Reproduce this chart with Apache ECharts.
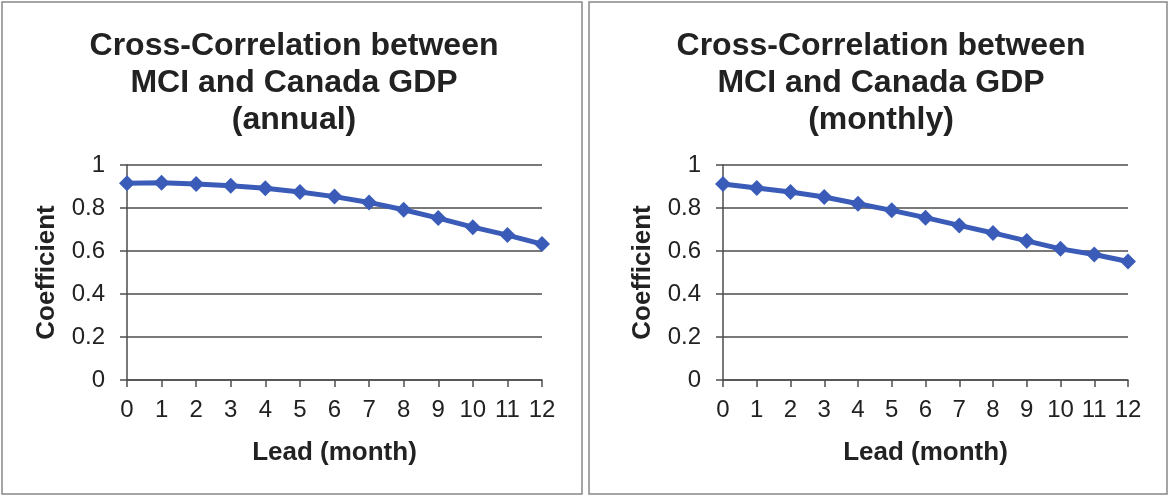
<!DOCTYPE html>
<html>
<head>
<meta charset="utf-8">
<script src="https://cdn.jsdelivr.net/npm/echarts@6/dist/echarts.min.js"></script>
<style>
html,body{margin:0;padding:0;background:#fff;}
#c{width:1171px;height:497px;}
</style>
</head>
<body>
<div id="c"></div>
<script>
const leads = ['0','1','2','3','4','5','6','7','8','9','10','11','12'];
const annualCoef = [0.915, 0.917, 0.912, 0.904, 0.892, 0.874, 0.853, 0.826, 0.792, 0.753, 0.711, 0.674, 0.632];
const monthlyCoef = [0.912, 0.893, 0.874, 0.851, 0.820, 0.789, 0.755, 0.719, 0.684, 0.647, 0.610, 0.584, 0.551];
const yTicks = [0, 0.2, 0.4, 0.6, 0.8, 1];
const titleAnnual = 'Cross-Correlation between\nMCI and Canada GDP\n(annual)';
const titleMonthly = 'Cross-Correlation between\nMCI and Canada GDP\n(monthly)';
const xName = 'Lead (month)';
const yName = 'Coefficient';

const FONT = '"Liberation Sans", Arial, sans-serif';
const axisCol = '#4d4d4d';
const lineCol = '#3A5CB8';

function xAxis(gi) {
  return {
    type: 'category', gridIndex: gi, data: leads, boundaryGap: false,
    name: xName, nameLocation: 'middle', nameGap: 60,
    nameTextStyle: {fontFamily: FONT, fontWeight: 'bold', fontSize: 26, color: '#222'},
    axisLine: {lineStyle: {color: axisCol, width: 1.5}},
    axisTick: {show: true, alignWithLabel: true, length: 7, lineStyle: {color: axisCol, width: 1.5}},
    axisLabel: {fontFamily: FONT, fontSize: 24, color: '#222', margin: 18, interval: 0},
    splitLine: {show: false}
  };
}
function yAxis(gi) {
  return {
    type: 'value', gridIndex: gi, min: 0, max: 1, interval: 0.2,
    name: yName, nameLocation: 'middle', nameGap: 67,
    nameTextStyle: {fontFamily: FONT, fontWeight: 'bold', fontSize: 26, color: '#222'},
    axisLine: {show: true, lineStyle: {color: axisCol, width: 1.5}},
    axisTick: {show: true, length: 7, lineStyle: {color: axisCol, width: 1.5}},
    axisLabel: {fontFamily: FONT, fontSize: 24, color: '#222', margin: 22,
      formatter: v => String(Math.round(v * 10) / 10)},
    splitLine: {show: true, lineStyle: {color: axisCol, width: 1.5}}
  };
}
function series(gi, data) {
  return {
    type: 'line', xAxisIndex: gi, yAxisIndex: gi, data: data,
    symbol: 'diamond', symbolSize: 16, smooth: false,
    lineStyle: {color: lineCol, width: 5},
    itemStyle: {color: lineCol},
    animation: false
  };
}

const chart = echarts.init(document.getElementById('c'), null, {renderer: 'canvas'});
chart.setOption({
  backgroundColor: '#ffffff',
  animation: false,
  title: [
    {text: titleAnnual, left: 289, top: 23, textAlign: 'center',
     textStyle: {fontFamily: FONT, fontWeight: 'bold', fontSize: 32, lineHeight: 37, color: '#222', align: 'center'}},
    {text: titleMonthly, left: 876, top: 23, textAlign: 'center',
     textStyle: {fontFamily: FONT, fontWeight: 'bold', fontSize: 32, lineHeight: 37, color: '#222', align: 'center'}}
  ],
  grid: [
    {left: 127, right: 629, top: 165, bottom: 117, containLabel: false},
    {left: 723, right: 43, top: 165, bottom: 117, containLabel: false}
  ],
  xAxis: [xAxis(0), xAxis(1)],
  yAxis: [yAxis(0), yAxis(1)],
  series: [series(0, annualCoef), series(1, monthlyCoef)],
  graphic: [
    {type: 'rect', shape: {x: 2, y: 2, width: 580, height: 492}, style: {fill: 'none', stroke: '#888', lineWidth: 1.5}, silent: true},
    {type: 'rect', shape: {x: 589, y: 2, width: 578, height: 492}, style: {fill: 'none', stroke: '#888', lineWidth: 1.5}, silent: true}
  ]
});
</script>
</body>
</html>
